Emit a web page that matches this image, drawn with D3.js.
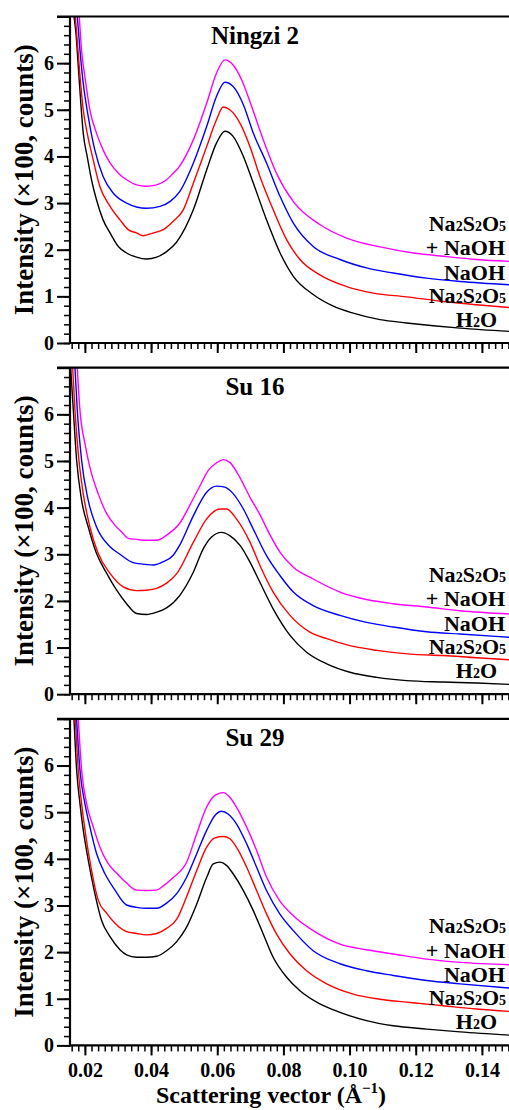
<!DOCTYPE html>
<html>
<head>
<meta charset="utf-8">
<script src="https://cdn.jsdelivr.net/npm/d3@7"></script>
<style>
  body { margin: 0; background: #fff; }
</style>
</head>
<body>
<div id="chart"></div>
<script>
// tick values
const xTicks = [0.02, 0.04, 0.06, 0.08, 0.10, 0.12, 0.14];
const yTicks = [0, 1, 2, 3, 4, 5, 6, 7];
const panelNames = ['Ningzi 2', 'Su 16', 'Su 29'];

// [scattering vector, intensity x100]
const ningzi2H2O = [[0.0167,7.0],[0.0173,6.64],[0.018,5.93],[0.0187,5.21],[0.0195,4.5],[0.0207,4.0],[0.022,3.5],[0.0235,3.07],[0.0255,2.64],[0.0276,2.36],[0.0301,2.07],[0.0326,1.93],[0.0356,1.84],[0.0386,1.8],[0.0417,1.84],[0.0447,1.96],[0.0477,2.16],[0.0528,2.86],[0.0568,3.71],[0.0598,4.29],[0.0623,4.54],[0.0648,4.43],[0.0679,4.0],[0.0709,3.43],[0.0749,2.64],[0.079,1.93],[0.083,1.43],[0.089,1.04],[0.0951,0.79],[0.1011,0.64],[0.1092,0.5],[0.1172,0.43],[0.1253,0.37],[0.1334,0.32],[0.1482,0.25]];
const ningzi2Na2S2O5 = [[0.0171,7.0],[0.0179,6.29],[0.0187,5.57],[0.0195,5.0],[0.0207,4.5],[0.0225,3.93],[0.0245,3.36],[0.0276,2.93],[0.0306,2.64],[0.0331,2.43],[0.0356,2.36],[0.0376,2.3],[0.0407,2.36],[0.0437,2.43],[0.0467,2.61],[0.0497,2.85],[0.0528,3.43],[0.0568,4.21],[0.0598,4.79],[0.0618,5.06],[0.0638,5.0],[0.0669,4.71],[0.0699,4.21],[0.0729,3.57],[0.0769,2.86],[0.081,2.21],[0.085,1.79],[0.091,1.46],[0.0991,1.21],[0.1072,1.07],[0.1172,0.99],[0.1283,0.89],[0.1384,0.82],[0.1482,0.76]];
const ningzi2NaOH = [[0.0177,7.0],[0.0185,6.29],[0.0195,5.57],[0.021,4.86],[0.023,4.14],[0.0255,3.57],[0.0286,3.21],[0.0326,3.0],[0.0386,2.89],[0.0427,2.93],[0.0457,3.03],[0.0487,3.25],[0.0528,3.86],[0.0568,4.64],[0.0598,5.29],[0.0623,5.59],[0.0648,5.5],[0.0679,5.11],[0.0709,4.5],[0.0749,3.86],[0.079,3.14],[0.083,2.57],[0.089,2.07],[0.0971,1.79],[0.1051,1.61],[0.1132,1.5],[0.1233,1.39],[0.1334,1.32],[0.1482,1.25]];
const ningzi2Mix = [[0.0183,7.0],[0.019,6.27],[0.02,5.71],[0.0215,5.0],[0.0235,4.5],[0.0255,4.14],[0.0276,3.86],[0.0301,3.64],[0.0326,3.5],[0.0356,3.39],[0.0386,3.36],[0.0417,3.39],[0.0447,3.5],[0.0467,3.64],[0.0482,3.75],[0.0528,4.36],[0.0568,5.14],[0.0598,5.79],[0.0623,6.07],[0.0648,5.96],[0.0674,5.64],[0.0704,5.07],[0.0739,4.36],[0.0779,3.64],[0.083,3.03],[0.091,2.54],[0.0991,2.25],[0.1092,2.06],[0.1193,1.93],[0.1283,1.86],[0.1384,1.79],[0.1482,1.75]];

const su16H2O = [[0.0157,7.0],[0.0165,6.09],[0.0175,5.02],[0.019,4.16],[0.021,3.59],[0.0235,3.02],[0.0266,2.59],[0.0296,2.23],[0.0326,1.94],[0.0356,1.73],[0.0386,1.71],[0.0417,1.76],[0.0447,1.85],[0.0487,2.12],[0.0528,2.62],[0.0558,3.12],[0.0583,3.37],[0.0613,3.47],[0.0638,3.4],[0.0669,3.19],[0.0699,2.83],[0.0729,2.4],[0.0769,1.83],[0.082,1.26],[0.087,0.9],[0.0931,0.65],[0.1001,0.47],[0.1082,0.36],[0.1172,0.29],[0.1283,0.26],[0.1384,0.24],[0.1482,0.21]];
const su16Na2S2O5 = [[0.0163,7.0],[0.017,6.09],[0.018,5.16],[0.0195,4.3],[0.0215,3.59],[0.024,3.02],[0.0276,2.59],[0.0316,2.3],[0.0356,2.22],[0.0386,2.23],[0.0417,2.27],[0.0447,2.38],[0.0477,2.58],[0.0528,3.26],[0.0568,3.76],[0.0608,3.97],[0.0628,3.97],[0.0658,3.76],[0.0699,3.26],[0.0729,2.76],[0.0769,2.19],[0.082,1.69],[0.088,1.33],[0.0931,1.19],[0.1001,1.04],[0.1082,0.94],[0.1183,0.86],[0.1283,0.83],[0.1384,0.78],[0.1482,0.74]];
const su16NaOH = [[0.017,7.0],[0.0177,6.09],[0.019,5.02],[0.021,4.16],[0.0235,3.59],[0.0276,3.16],[0.0306,3.0],[0.0346,2.82],[0.0386,2.78],[0.0407,2.77],[0.0437,2.84],[0.0467,2.98],[0.0487,3.2],[0.0528,3.83],[0.0568,4.33],[0.0598,4.46],[0.0623,4.44],[0.0648,4.3],[0.0679,3.97],[0.0709,3.54],[0.0749,2.97],[0.079,2.54],[0.083,2.19],[0.089,1.9],[0.0971,1.69],[0.1051,1.54],[0.1132,1.44],[0.1233,1.34],[0.1334,1.29],[0.1482,1.22]];
const su16Mix = [[0.0177,7.0],[0.0185,6.09],[0.02,5.38],[0.0215,4.87],[0.024,4.3],[0.0266,3.87],[0.0291,3.62],[0.0311,3.48],[0.0331,3.34],[0.0356,3.32],[0.0386,3.3],[0.0417,3.3],[0.0447,3.41],[0.0487,3.67],[0.0517,4.05],[0.0548,4.47],[0.0573,4.8],[0.0598,4.96],[0.0618,5.03],[0.0638,4.97],[0.0669,4.64],[0.0699,4.22],[0.0729,3.85],[0.0759,3.42],[0.079,3.04],[0.083,2.72],[0.089,2.47],[0.0971,2.19],[0.1051,2.03],[0.1132,1.94],[0.1233,1.87],[0.1334,1.79],[0.1482,1.72]];

const su29H2O = [[0.0167,7.0],[0.0175,5.91],[0.0185,5.19],[0.0195,4.62],[0.021,3.98],[0.023,3.26],[0.025,2.69],[0.0276,2.33],[0.0306,2.05],[0.0326,1.94],[0.0356,1.89],[0.0386,1.89],[0.0417,1.91],[0.0447,2.03],[0.0477,2.22],[0.0507,2.53],[0.0538,3.03],[0.0568,3.6],[0.0588,3.89],[0.0608,3.93],[0.0628,3.86],[0.0648,3.68],[0.0679,3.32],[0.0709,2.89],[0.0739,2.39],[0.0769,1.89],[0.081,1.46],[0.085,1.17],[0.091,0.89],[0.0971,0.71],[0.1051,0.53],[0.1132,0.42],[0.1233,0.35],[0.1334,0.29],[0.1482,0.22]];
const su29Na2S2O5 = [[0.0171,7.0],[0.018,5.91],[0.019,5.19],[0.0203,4.48],[0.022,3.76],[0.024,3.12],[0.0266,2.83],[0.0291,2.62],[0.0326,2.44],[0.0356,2.4],[0.0386,2.37],[0.0417,2.4],[0.0447,2.51],[0.0477,2.7],[0.0507,3.18],[0.0538,3.75],[0.0568,4.25],[0.0593,4.45],[0.0618,4.48],[0.0638,4.43],[0.0658,4.25],[0.0689,3.82],[0.0719,3.32],[0.0749,2.82],[0.0779,2.39],[0.082,1.96],[0.087,1.6],[0.0931,1.32],[0.1011,1.1],[0.1092,0.99],[0.1183,0.92],[0.1283,0.85],[0.1384,0.78],[0.1482,0.73]];
const su29NaOH = [[0.0175,7.0],[0.0185,5.91],[0.02,5.19],[0.0215,4.69],[0.0235,4.12],[0.026,3.69],[0.0291,3.33],[0.0326,3.01],[0.0356,2.96],[0.0386,2.94],[0.0417,2.94],[0.0447,3.05],[0.0477,3.25],[0.0507,3.6],[0.0538,4.11],[0.0568,4.61],[0.0593,4.93],[0.0613,5.02],[0.0633,4.96],[0.0658,4.75],[0.0689,4.32],[0.0719,3.82],[0.0749,3.32],[0.0789,2.82],[0.083,2.46],[0.089,2.03],[0.0971,1.75],[0.1051,1.6],[0.1132,1.5],[0.1233,1.39],[0.1334,1.32],[0.1482,1.23]];
const su29Mix = [[0.018,7.0],[0.019,5.91],[0.0205,5.19],[0.0225,4.69],[0.0245,4.26],[0.027,3.9],[0.0296,3.69],[0.0326,3.48],[0.0356,3.33],[0.0386,3.32],[0.0417,3.33],[0.0437,3.42],[0.0467,3.6],[0.0507,3.92],[0.0538,4.54],[0.0568,5.11],[0.0593,5.36],[0.0618,5.42],[0.0638,5.32],[0.0658,5.11],[0.0689,4.68],[0.0719,4.18],[0.0749,3.61],[0.0789,3.1],[0.083,2.78],[0.089,2.46],[0.0971,2.17],[0.1051,2.05],[0.1132,1.96],[0.1233,1.85],[0.1334,1.78],[0.1482,1.73]];

const panelSeries = [
  [ningzi2H2O, ningzi2Na2S2O5, ningzi2NaOH, ningzi2Mix],
  [su16H2O, su16Na2S2O5, su16NaOH, su16Mix],
  [su29H2O, su29Na2S2O5, su29NaOH, su29Mix]
];
const seriesColors = ['#000000', '#ff0000', '#0000ff', '#ff00ff'];

const W = 509, H = 1110;
const left = 70, panelH = 326.5;
const panelTops = [16.5, 367.7, 718.9];
const serif = "'Liberation Serif', 'DejaVu Serif', serif";

const svg = d3.select('#chart')
  .append('svg')
  .attr('width', W)
  .attr('height', H)
  .attr('font-family', serif)
  .attr('font-weight', 'bold');

const x = d3.scaleLinear().domain([0.0155, 0.15]).range([70, 515]);
const minorX = d3.range(16, 150, 2).map(d => d / 1000);
const minorY = d3.range(0, 7.01, 0.2).map(d => +d.toFixed(1));

// legend labels, [parts, x, offset from panel top]
const legendRows = [
  [[['Na', 0], ['2', 1], ['S', 0], ['2', 1], ['O', 0], ['5', 1]], 506, 214.5],
  [[['+ NaOH', 0]], 505, 238.7],
  [[['NaOH', 0]], 505, 263],
  [[['Na', 0], ['2', 1], ['S', 0], ['2', 1], ['O', 0], ['5', 1]], 506, 286.5],
  [[['H', 0], ['2', 1], ['O', 0]], 497, 310.5]
];

panelTops.forEach((top, i) => {
  const bottom = top + panelH;
  const y = d3.scaleLinear().domain([0, 7]).range([bottom, top]);
  const g = svg.append('g');

  g.append('clipPath')
    .attr('id', 'clip' + i)
    .append('rect')
    .attr('x', left)
    .attr('y', top)
    .attr('width', W - left)
    .attr('height', panelH);

  const line = d3.line()
    .x(d => x(d[0]))
    .y(d => y(d[1]))
    .curve(d3.curveMonotoneX);

  g.append('g')
    .attr('clip-path', `url(#clip${i})`)
    .selectAll('path')
    .data(panelSeries[i])
    .enter()
    .append('path')
    .attr('d', line)
    .attr('fill', 'none')
    .attr('stroke', (d, k) => seriesColors[k])
    .attr('stroke-width', 1.4);

  // minor ticks
  g.append('g')
    .attr('transform', `translate(${left},0)`)
    .call(d3.axisLeft(y).tickValues(minorY).tickSize(6).tickFormat(''))
    .call(a => a.select('.domain').remove())
    .selectAll('line').attr('stroke-width', 1.5);

  g.append('g')
    .attr('transform', `translate(0,${bottom})`)
    .call(d3.axisBottom(x).tickValues(minorX).tickSize(6).tickFormat(''))
    .call(a => a.select('.domain').remove())
    .selectAll('line').attr('stroke-width', 1.5);

  // major ticks
  const yAxis = g.append('g')
    .attr('transform', `translate(${left},0)`)
    .call(d3.axisLeft(y).tickValues(yTicks).tickSize(13).tickPadding(3)
      .tickFormat(d => d === 7 ? '' : d))
    .call(a => a.select('.domain').remove())
    .attr('font-family', serif);
  yAxis.selectAll('line').attr('stroke-width', 2);
  yAxis.selectAll('text')
    .attr('font-size', 20)
    .attr('font-weight', 'bold')
    .attr('fill', '#000');

  const xAxis = g.append('g')
    .attr('transform', `translate(0,${bottom})`)
    .call(d3.axisBottom(x).tickValues(xTicks).tickSize(10).tickPadding(7)
      .tickFormat(i === 2 ? d3.format('.2f') : ''))
    .call(a => a.select('.domain').remove())
    .attr('font-family', serif);
  xAxis.selectAll('line').attr('stroke-width', 2);
  xAxis.selectAll('text')
    .attr('font-size', 20)
    .attr('font-weight', 'bold')
    .attr('fill', '#000');

  // frame lines
  g.append('line')
    .attr('x1', left).attr('x2', left)
    .attr('y1', top).attr('y2', bottom + 1)
    .attr('stroke', '#000').attr('stroke-width', 2.2);
  g.append('line')
    .attr('x1', left - 1).attr('x2', W)
    .attr('y1', bottom).attr('y2', bottom)
    .attr('stroke', '#000').attr('stroke-width', 2.2);
  g.append('line')
    .attr('x1', left - 13).attr('x2', W)
    .attr('y1', top).attr('y2', top)
    .attr('stroke', '#000').attr('stroke-width', 2.2);

  g.append('text')
    .attr('x', 255)
    .attr('y', top + 27.5)
    .attr('text-anchor', 'middle')
    .attr('font-size', 25)
    .text(panelNames[i]);

  g.append('text')
    .attr('transform', `translate(33,${(top + bottom) / 2}) rotate(-90)`)
    .attr('text-anchor', 'middle')
    .attr('font-size', 27)
    .text('Intensity (×100, counts)');

  legendRows.forEach(row => {
    const t = g.append('text')
      .attr('x', row[1])
      .attr('y', top + row[2])
      .attr('text-anchor', 'end')
      .attr('font-size', 22);
    row[0].forEach(p => {
      t.append('tspan')
        .attr('font-size', p[1] ? 14 : 22)
        .text(p[0]);
    });
  });
});

const xTitle = svg.append('text')
  .attr('x', 271)
  .attr('y', 1103)
  .attr('text-anchor', 'middle')
  .attr('font-size', 24);
xTitle.append('tspan').text('Scattering vector (Å');
xTitle.append('tspan').attr('font-size', 15).attr('dy', -10).text('−1');
xTitle.append('tspan').attr('dy', 10).text(')');
</script>
</body>
</html>
